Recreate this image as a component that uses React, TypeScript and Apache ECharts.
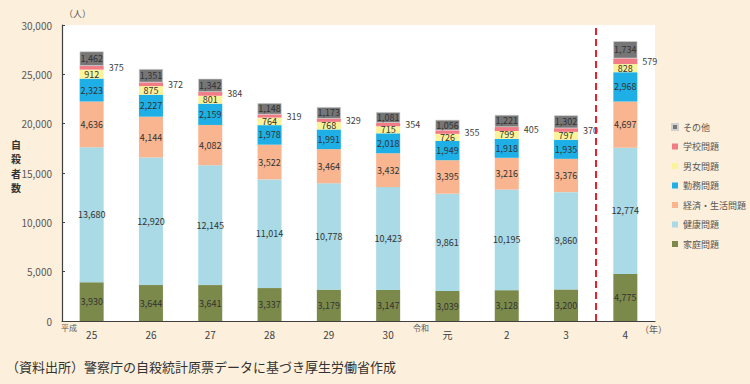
import React, { useEffect, useRef } from "react";
import * as echarts from "echarts";

const years = ["25", "26", "27", "28", "29", "30", "元", "2", "3", "4"];
const family = [3930, 3644, 3641, 3337, 3179, 3147, 3039, 3128, 3200, 4775];
const health = [13680, 12920, 12145, 11014, 10778, 10423, 9861, 10195, 9860, 12774];
const economy = [4636, 4144, 4082, 3522, 3464, 3432, 3395, 3216, 3376, 4697];
const work = [2323, 2227, 2159, 1978, 1991, 2018, 1949, 1918, 1935, 2968];
const gender = [912, 875, 801, 764, 768, 715, 726, 799, 797, 828];
const school = [375, 372, 384, 319, 329, 354, 355, 405, 370, 579];
const other = [1462, 1351, 1342, 1148, 1173, 1081, 1056, 1221, 1302, 1734];

const seriesDefs = [
  { name: "家庭問題", data: family, color: "#7B8A4A" },
  { name: "健康問題", data: health, color: "#A9DAE5" },
  { name: "経済・生活問題", data: economy, color: "#F8B590" },
  { name: "勤務問題", data: work, color: "#1DAFE5" },
  { name: "男女問題", data: gender, color: "#FAF39A" },
  { name: "学校問題", data: school, color: "#F27C86" },
  { name: "その他", data: other, color: "#767676" },
];
const legendOrder = ["その他", "学校問題", "男女問題", "勤務問題", "経済・生活問題", "健康問題", "家庭問題"];
const dividerAt = [9];
const yTitleChars = ["自", "殺", "者", "数"];

const FONT = '"Noto Sans CJK JP", "Noto Sans", sans-serif';

export default function App() {
  const ref = useRef<HTMLDivElement>(null);
  useEffect(() => {
    if (!ref.current) return;
    const chart = echarts.init(ref.current, null, { renderer: "svg" });
    const fmt = (p: any) => Number(p.value).toLocaleString("en-US");
    const barSeries = seriesDefs.map((s) => ({
      type: "bar",
      name: s.name,
      stack: "total",
      data: s.data,
      barWidth: 24,
      itemStyle: {
        color: s.color,
        borderColor: s.name === "その他" ? "#D0D0D0" : undefined,
        borderWidth: s.name === "その他" ? 0.6 : 0,
      },
      label: {
        show: true,
        position: s.name === "学校問題" ? "right" : "inside",
        distance: 5,
        formatter: fmt,
        fontSize: 9,
        fontFamily: FONT,
        color: s.name === "学校問題" ? "#404040" : "#333",
      },
    }));
    chart.setOption({
      animation: false,
      backgroundColor: "#FCEFDB",
      textStyle: { fontFamily: FONT },
      grid: { left: 62, right: 95, top: 25, bottom: 63, show: true, backgroundColor: "#FFFFFF", borderWidth: 0 },
      legend: {
        orient: "vertical",
        left: 666,
        top: 116,
        data: legendOrder,
        itemWidth: 6,
        itemHeight: 6,
        itemGap: 7.5,
        icon: "rect",
        textStyle: { fontSize: 9, color: "#555", fontFamily: FONT, lineHeight: 12 },
      },
      xAxis: [
        {
          type: "category",
          data: years,
          axisLine: { lineStyle: { color: "#404040", width: 1.2 } },
          axisTick: { inside: true, length: 4, lineStyle: { color: "#404040" } },
          axisLabel: { fontSize: 10, color: "#404040", margin: 8, fontFamily: FONT },
        },
        { type: "value", min: 0, max: 10, show: false },
      ],
      yAxis: {
        type: "value",
        min: 0,
        max: 30000,
        interval: 5000,
        axisLine: { show: true, lineStyle: { color: "#404040", width: 1.2 } },
        axisTick: { show: true, inside: true, length: 3, lineStyle: { color: "#404040" } },
        splitLine: { show: false },
        axisLabel: {
          fontSize: 10,
          color: "#595959",
          margin: 10,
          formatter: (v: number) => v.toLocaleString("en-US"),
          fontFamily: FONT,
        },
      },
      series: [
        ...barSeries,
        {
          type: "line",
          xAxisIndex: 1,
          data: [],
          silent: true,
          markLine: {
            symbol: "none",
            silent: true,
            label: { show: false },
            lineStyle: { color: "#E8202A", type: [7, 4], width: 2 },
            data: dividerAt.map((v) => ({ xAxis: v })),
          },
        },
      ],
      graphic: [
        { type: "text", left: 64, top: 9, style: { text: "（人）", fontSize: 9, fill: "#595959", fontFamily: FONT } },
        ...yTitleChars.map((c, i) => ({
          type: "text",
          left: 11,
          top: 139 + i * 14.5,
          style: { text: c, fontSize: 10, fontWeight: "bold", fill: "#333", fontFamily: FONT },
        })),
        { type: "text", left: 61, top: 323, style: { text: "平成", fontSize: 8, fill: "#595959", fontFamily: FONT } },
        { type: "text", left: 413, top: 323, style: { text: "令和", fontSize: 8, fill: "#595959", fontFamily: FONT } },
        { type: "text", left: 640, top: 325, style: { text: "（年）", fontSize: 9, fill: "#595959", fontFamily: FONT } },
        {
          type: "text",
          left: 6,
          top: 360,
          style: { text: "（資料出所）警察庁の自殺統計原票データに基づき厚生労働省作成", fontSize: 13, fill: "#333", fontFamily: FONT },
        },
      ],
    });
    return () => chart.dispose();
  }, []);
  return <div ref={ref} style={{ position: "fixed", left: 0, top: 0, width: 750, height: 384 }} />;
}
